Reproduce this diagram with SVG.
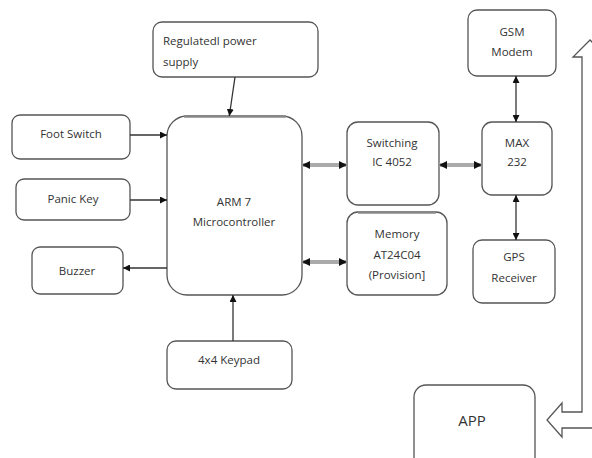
<svg xmlns="http://www.w3.org/2000/svg" width="592" height="458" viewBox="0 0 592 458">
<defs>
<style>
.box{fill:#fff;stroke:#555;stroke-width:1.3}
.t{font-family:"Open Sans","Liberation Sans",sans-serif;font-size:11.5px;fill:#333;text-anchor:middle}
.tl{text-anchor:start}
.thin{stroke:#333;stroke-width:1.3;fill:none}
.thick{stroke:#aaa;stroke-width:4;fill:none}
.edge{stroke:#888;stroke-width:2.5;fill:none}
</style>
<marker id="ah" viewBox="0 0 10 10" refX="10" refY="5" markerWidth="7" markerHeight="7" markerUnits="userSpaceOnUse" orient="auto-start-reverse"><path d="M0,0 L10,5 L0,10 z" fill="#111"/></marker>
<marker id="ahb" viewBox="0 0 10 10" refX="10" refY="5" markerWidth="8" markerHeight="8" markerUnits="userSpaceOnUse" orient="auto-start-reverse"><path d="M0,0 L10,5 L0,10 z" fill="#111"/></marker>
</defs>
<rect width="592" height="458" fill="#fff"/>

<g id="power">
<rect class="box" x="153" y="22" width="165" height="55" rx="9"/>
<text class="t tl" x="163" y="45">Regulatedl power</text>
<text class="t tl" x="163" y="66">supply</text>
</g>
<g id="arm">
<rect class="box" x="167" y="116" width="135" height="179" rx="20"/>
<line class="edge" x1="184" y1="116.5" x2="286" y2="116.5"/>
<text class="t" x="234" y="206">ARM 7</text>
<text class="t" x="234" y="226">Microcontroller</text>
</g>
<g id="footswitch">
<rect class="box" x="12" y="115" width="118" height="44" rx="8"/>
<text class="t" x="71" y="138">Foot Switch</text>
</g>
<g id="panickey">
<rect class="box" x="16" y="179" width="114" height="41" rx="8"/>
<text class="t" x="73" y="203">Panic Key</text>
</g>
<g id="buzzer">
<rect class="box" x="32" y="247" width="91" height="47" rx="8"/>
<text class="t" x="77" y="275">Buzzer</text>
</g>
<g id="keypad">
<rect class="box" x="167" y="341" width="125" height="48" rx="9"/>
<text class="t" x="229" y="364">4x4 Keypad</text>
</g>
<g id="switching">
<rect class="box" x="347" y="122" width="92" height="83" rx="11"/>
<text class="t" x="392" y="147">Switching</text>
<text class="t" x="392" y="166">IC 4052</text>
</g>
<g id="memory">
<rect class="box" x="347" y="212" width="100" height="83" rx="11"/>
<line class="edge" x1="358" y1="212.5" x2="436" y2="212.5"/>
<text class="t" x="397" y="238">Memory</text>
<text class="t" x="397" y="259">AT24C04</text>
<text class="t" x="397" y="279">(Provision]</text>
</g>
<g id="max232">
<rect class="box" x="482" y="122" width="70" height="73" rx="10"/>
<text class="t" x="517" y="147">MAX</text>
<text class="t" x="517" y="166">232</text>
</g>
<g id="gsm">
<rect class="box" x="468" y="10" width="88" height="66" rx="9"/>
<text class="t" x="512" y="36">GSM</text>
<text class="t" x="512" y="56">Modem</text>
</g>
<g id="gps">
<rect class="box" x="473" y="240" width="82" height="63" rx="9"/>
<text class="t" x="514" y="261">GPS</text>
<text class="t" x="514" y="282">Receiver</text>
</g>
<g id="app">
<rect class="box" x="414" y="385" width="121" height="90" rx="12"/>
<text class="t" x="472" y="426" style="font-size:15px">APP</text>
</g>

<g id="connectors">
<line class="thin" x1="235" y1="77" x2="229.3" y2="116" marker-end="url(#ah)"/>
<line class="thin" x1="130" y1="135" x2="167" y2="135" marker-end="url(#ah)"/>
<line class="thin" x1="130" y1="200" x2="167" y2="200" marker-end="url(#ah)"/>
<line class="thin" x1="167" y1="268" x2="123" y2="268" marker-end="url(#ah)"/>
<line class="thin" x1="233" y1="341" x2="233" y2="295" marker-end="url(#ah)"/>
<line class="thick" x1="302" y1="165" x2="347" y2="165" marker-start="url(#ahb)" marker-end="url(#ahb)"/>
<line class="thick" x1="302" y1="262" x2="347" y2="262" marker-start="url(#ahb)" marker-end="url(#ahb)"/>
<line class="thick" x1="439" y1="165" x2="482" y2="165" marker-start="url(#ahb)" marker-end="url(#ahb)"/>
<line class="thin" x1="516" y1="76" x2="516" y2="122" marker-start="url(#ah)" marker-end="url(#ah)"/>
<line class="thin" x1="516" y1="195" x2="516" y2="240" marker-start="url(#ah)" marker-end="url(#ah)"/>
<path d="M590,40 L573,57 L582,57 L582,412 L562,412 L562,403 L547,420 L562,437 L562,428 L598,428 L598,57 L607,57 Z" fill="#fff" stroke="#555" stroke-width="1.3"/>
</g>
</svg>
